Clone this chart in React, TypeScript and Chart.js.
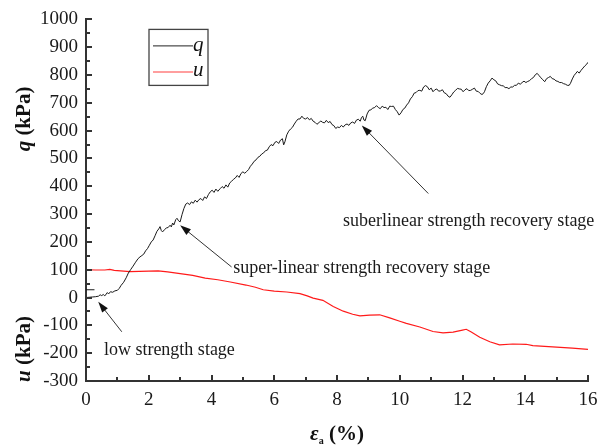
import React, { useEffect, useRef } from "react";
import { Chart, registerables } from "chart.js";

Chart.register(...registerables);

// Axial strain (%) and deviator stress q (kPa)
const qStrain = [
  0.0, 0.1, 0.2, 0.3, 0.4, 0.45, 0.5, 0.55, 0.6, 0.68, 0.72, 0.78, 0.85, 0.92, 1.0, 1.06, 1.12, 1.2, 1.28, 1.35,
  1.42, 1.5, 1.58, 1.66, 1.72, 1.78, 1.84, 1.9, 1.96, 2.02, 2.08, 2.14, 2.2, 2.26, 2.32, 2.36, 2.4, 2.44, 2.5, 2.56,
  2.62, 2.68, 2.72, 2.76, 2.8, 2.86, 2.9, 2.95, 3.0, 3.06, 3.12, 3.18, 3.24, 3.3, 3.36, 3.42, 3.48, 3.54, 3.6, 3.66,
  3.72, 3.78, 3.84, 3.9, 3.96, 4.02, 4.08, 4.14, 4.2, 4.28, 4.34, 4.4, 4.46, 4.52, 4.58, 4.64, 4.7, 4.76, 4.82, 4.88,
  4.94, 5.0, 5.06, 5.12, 5.18, 5.24, 5.3, 5.36, 5.42, 5.48, 5.54, 5.6, 5.66, 5.72, 5.78, 5.84, 5.9, 5.96, 6.02, 6.08,
  6.14, 6.2, 6.26, 6.3, 6.34, 6.4, 6.46, 6.52, 6.58, 6.64, 6.7, 6.76, 6.82, 6.88, 6.94, 7.0, 7.06, 7.12, 7.18, 7.24,
  7.3, 7.36, 7.42, 7.48, 7.54, 7.6, 7.66, 7.72, 7.78, 7.84, 7.9, 7.96, 8.02, 8.08, 8.14, 8.2, 8.26, 8.32, 8.38, 8.44,
  8.5, 8.56, 8.62, 8.68, 8.74, 8.78, 8.82, 8.86, 8.9, 8.96, 9.02, 9.08, 9.14, 9.2, 9.26, 9.32, 9.38, 9.44, 9.5, 9.56,
  9.62, 9.68, 9.74, 9.8, 9.86, 9.92, 9.98, 10.04, 10.1, 10.16, 10.22, 10.28, 10.34, 10.4, 10.46, 10.52, 10.58, 10.64,
  10.7, 10.76, 10.82, 10.88, 10.94, 11.0, 11.06, 11.12, 11.18, 11.24, 11.3, 11.36, 11.42, 11.48, 11.54, 11.6, 11.66,
  11.72, 11.78, 11.84, 11.9, 11.96, 12.02, 12.08, 12.14, 12.2, 12.26, 12.32, 12.38, 12.44, 12.5, 12.56, 12.62, 12.66,
  12.7, 12.76, 12.82, 12.88, 12.94, 13.0, 13.06, 13.12, 13.18, 13.24, 13.3, 13.36, 13.42, 13.48, 13.54, 13.6, 13.66,
  13.72, 13.78, 13.84, 13.9, 13.96, 14.02, 14.08, 14.14, 14.2, 14.26, 14.32, 14.38, 14.44, 14.5, 14.56, 14.62, 14.68,
  14.74, 14.8, 14.86, 14.92, 14.98, 15.04, 15.1, 15.16, 15.22, 15.28, 15.34, 15.4, 15.44, 15.5, 15.56, 15.62, 15.66,
  15.72, 15.78, 15.84, 15.9, 15.96, 16.0,
];
const qValues = [
  0, 1, 2, 3, 5, 10, 7, 11, 6, 18, 13, 21, 19, 24, 26, 33, 44, 55, 71, 88,
  100, 113, 127, 140, 146, 151, 156, 168, 176, 188, 200, 207, 222, 238, 247, 255, 241, 236, 244, 250,
  252, 260, 254, 268, 261, 280, 285, 276, 272, 298, 320, 336, 340, 334, 344, 339, 350, 343, 352, 356,
  349, 362, 356, 370, 380, 386, 378, 390, 382, 392, 399, 393, 405, 397, 412, 418, 425, 430, 439, 432,
  446, 452, 447, 453, 460, 472, 480, 490, 495, 504, 508, 516, 520, 528, 530, 542, 550, 546, 558, 561,
  554, 566, 571, 549, 560, 585, 598, 606, 612, 624, 634, 642, 642, 652, 644, 642, 647, 639, 644, 634,
  630, 623, 628, 635, 630, 628, 637, 629, 633, 622, 618, 608, 613, 611, 619, 613, 621, 624, 619, 628,
  631, 626, 638, 641, 634, 647, 652, 638, 636, 660, 673, 675, 681, 683, 690, 683, 679, 688, 683, 684,
  676, 688, 687, 688, 676, 668, 656, 664, 676, 681, 692, 700, 714, 722, 735, 737, 744, 745,
  742, 757, 762, 758, 747, 753, 740, 747, 750, 742, 743, 747, 736, 733, 724, 720, 729,
  739, 745, 752, 750, 749, 740, 747, 751, 744, 745, 749, 753, 742, 741, 734, 730, 733,
  740, 758, 771, 779, 789, 783, 779, 768, 765, 762, 761, 755, 755, 751, 757, 757, 763,
  763, 771, 767, 773, 778, 773, 777, 780, 787, 791, 801, 806, 798, 790, 783, 776, 787,
  791, 795, 787, 785, 779, 777, 773, 773, 769, 767, 763, 763, 770, 786, 799, 807, 813,
  807, 817, 825, 833, 839, 846,
];

// Short initial q reading before the seating drop
const qStartStrain = [0.0, 0.27];
const qStartValues = [28, 28];

// Axial strain (%) and pore pressure u (kPa)
const uStrain = [
  0, 0.3, 0.6, 0.76, 0.9, 1.1, 1.4, 1.7, 2.0, 2.3, 2.6, 3.0, 3.4, 3.8, 4.2, 4.6, 5.1, 5.4, 5.65, 6.0, 6.4, 6.82,
  7.05, 7.24, 7.55, 7.88, 8.2, 8.5, 8.73, 9.04, 9.36, 9.68, 10.0, 10.21, 10.64, 11.06, 11.38, 11.7, 12.0, 12.12,
  12.28, 12.55, 12.87, 13.18, 13.6, 14.03, 14.24, 14.87, 15.5, 16,
];
const uValues = [
  100, 99, 99, 101, 98, 96, 93, 94, 95, 96, 92, 86, 80, 70, 64, 56, 45, 37, 28, 23, 20, 14,
  6, -2, -10, -32, -49, -60, -66, -63, -62, -73, -85, -93, -106, -122, -127, -124, -117, -114,
  -124, -143, -159, -170, -167, -168, -173, -177, -182, -186,
];

const xTicks = { min: 0, max: 16, step: 2 };
const yTicks = { min: -300, max: 1000, step: 100 };

// Stage notes: text anchor and arrow (tail -> head) in data units
const stageNotes = [
  { text: "low strength stage", at: [0.57, -189], tail: [1.14, -123], head: [0.39, -15] },
  { text: "super-linear strength recovery stage", at: [4.69, 106], tail: [4.64, 110], head: [3.0, 260] },
  { text: "suberlinear strength recovery stage", at: [8.19, 274], tail: [10.91, 374], head: [8.79, 619] },
];

const SERIF = '"Liberation Serif", "Times New Roman", serif';

const pairs = (xs: number[], ys: number[]) => xs.map((x, i) => ({ x, y: ys[i] }));

function drawArrow(ctx: CanvasRenderingContext2D, x1: number, y1: number, x2: number, y2: number) {
  const ang = Math.atan2(y2 - y1, x2 - x1);
  const len = 11;
  const half = 3.6;
  ctx.strokeStyle = "#333";
  ctx.lineWidth = 1;
  ctx.beginPath();
  ctx.moveTo(x1, y1);
  ctx.lineTo(x2 - Math.cos(ang) * len * 0.6, y2 - Math.sin(ang) * len * 0.6);
  ctx.stroke();
  ctx.fillStyle = "#111";
  ctx.beginPath();
  ctx.moveTo(x2, y2);
  ctx.lineTo(x2 - Math.cos(ang) * len - Math.sin(ang) * half, y2 - Math.sin(ang) * len + Math.cos(ang) * half);
  ctx.lineTo(x2 - Math.cos(ang) * len + Math.sin(ang) * half, y2 - Math.sin(ang) * len - Math.cos(ang) * half);
  ctx.closePath();
  ctx.fill();
}

// Draws runs of text with individual fonts, left to right from (x, y)
function drawRuns(ctx: CanvasRenderingContext2D, runs: { t: string; f: string; dy?: number }[], x: number, y: number) {
  let cx = x;
  for (const r of runs) {
    ctx.font = r.f;
    ctx.fillText(r.t, cx, y + (r.dy || 0));
    cx += ctx.measureText(r.t).width;
  }
}
function runsWidth(ctx: CanvasRenderingContext2D, runs: { t: string; f: string }[]) {
  let w = 0;
  for (const r of runs) {
    ctx.font = r.f;
    w += ctx.measureText(r.t).width;
  }
  return w;
}

const decor = {
  id: "decor",
  afterDraw(chart: any) {
    const { ctx, chartArea: ca } = chart;
    const xs = chart.scales.x;
    const ys = chart.scales.y;
    ctx.save();

    // inward tick marks
    ctx.strokeStyle = "#333";
    ctx.lineWidth = 2;
    for (let v = xTicks.min; v <= xTicks.max; v += 1) {
      const px = Math.round(xs.getPixelForValue(v));
      const len = v % xTicks.step === 0 ? 6 : 4;
      ctx.beginPath();
      ctx.moveTo(px, ca.bottom);
      ctx.lineTo(px, ca.bottom - len);
      ctx.stroke();
    }
    for (let v = yTicks.min; v <= yTicks.max; v += yTicks.step / 2) {
      const py = Math.round(ys.getPixelForValue(v));
      const len = v % yTicks.step === 0 ? 6 : 4;
      ctx.beginPath();
      ctx.moveTo(ca.left, py);
      ctx.lineTo(ca.left + len, py);
      ctx.stroke();
    }

    // legend
    const lx = ca.left + 63;
    const ly = ca.top + 10;
    ctx.strokeStyle = "#444";
    ctx.lineWidth = 1.3;
    ctx.strokeRect(lx, ly, 59, 56);
    ctx.lineWidth = 1;
    ctx.strokeStyle = "#222";
    ctx.beginPath();
    ctx.moveTo(lx + 4, ly + 16.5);
    ctx.lineTo(lx + 44, ly + 16.5);
    ctx.stroke();
    ctx.strokeStyle = "#ff9e9e";
    ctx.lineWidth = 2;
    ctx.beginPath();
    ctx.moveTo(lx + 4, ly + 42.5);
    ctx.lineTo(lx + 44, ly + 42.5);
    ctx.stroke();
    ctx.fillStyle = "#111";
    ctx.font = `italic 21px ${SERIF}`;
    ctx.textBaseline = "middle";
    ctx.textAlign = "left";
    ctx.fillText("q", lx + 44, ly + 16);
    ctx.fillText("u", lx + 44, ly + 41);

    // stage notes
    for (const n of stageNotes) {
      ctx.font = `18px ${SERIF}`;
      ctx.fillStyle = "#1a1a1a";
      ctx.textBaseline = "middle";
      ctx.fillText(n.text, xs.getPixelForValue(n.at[0]), ys.getPixelForValue(n.at[1]));
      drawArrow(
        ctx,
        xs.getPixelForValue(n.tail[0]),
        ys.getPixelForValue(n.tail[1]),
        xs.getPixelForValue(n.head[0]),
        ys.getPixelForValue(n.head[1])
      );
    }

    // axis titles
    ctx.fillStyle = "#111";
    ctx.textBaseline = "middle";
    const yTitle = (sym: string, cy: number) => {
      const runs = [
        { t: sym, f: `italic bold 21px ${SERIF}` },
        { t: " (kPa)", f: `bold 21px ${SERIF}` },
      ];
      const w = runsWidth(ctx, runs);
      ctx.save();
      ctx.translate(25, cy);
      ctx.rotate(-Math.PI / 2);
      drawRuns(ctx, runs, -w / 2, 0);
      ctx.restore();
    };
    yTitle("q", 119);
    yTitle("u", 349);

    const xRuns = [
      { t: "\u03b5", f: `italic bold 21px ${SERIF}` },
      { t: "a", f: `bold 10px ${SERIF}`, dy: 6 },
      { t: " (%)", f: `bold 21px ${SERIF}` },
    ];
    const xw = runsWidth(ctx, xRuns);
    drawRuns(ctx, xRuns, (ca.left + ca.right) / 2 - xw / 2, 435);

    ctx.restore();
  },
};

export default function App() {
  const ref = useRef<HTMLCanvasElement>(null);

  useEffect(() => {
    if (!ref.current) return;
    const chart = new Chart(ref.current, {
      type: "line",
      data: {
        datasets: [
          {
            label: "q",
            data: pairs(qStrain, qValues),
            borderColor: "#1a1a1a",
            borderWidth: 1,
            pointRadius: 0,
            tension: 0,
          },
          {
            label: "q0",
            data: pairs(qStartStrain, qStartValues),
            borderColor: "#1a1a1a",
            borderWidth: 1,
            pointRadius: 0,
            tension: 0,
          },
          {
            label: "u",
            data: pairs(uStrain, uValues),
            borderColor: "#ff1a1a",
            borderWidth: 1.2,
            pointRadius: 0,
            tension: 0,
          },
        ],
      },
      options: {
        animation: false,
        responsive: false,
        devicePixelRatio: 1,
        layout: { padding: { top: 19, right: 19, left: 0, bottom: 0 } },
        plugins: { legend: { display: false }, tooltip: { enabled: false } },
        scales: {
          x: {
            type: "linear",
            min: xTicks.min,
            max: xTicks.max,
            ticks: {
              stepSize: xTicks.step,
              color: "#1a1a1a",
              font: { family: SERIF, size: 19 },
              padding: 8,
              maxRotation: 0,
              callback: (v: any) => String(v),
            },
            grid: { display: false, drawTicks: false },
            border: { display: true, color: "#333", width: 2 },
            afterFit: (s: any) => {
              s.height = 65;
            },
          },
          y: {
            type: "linear",
            min: yTicks.min,
            max: yTicks.max,
            ticks: {
              stepSize: yTicks.step,
              color: "#1a1a1a",
              font: { family: SERIF, size: 19 },
              padding: 8,
              callback: (v: any) => String(v),
            },
            grid: { display: false, drawTicks: false },
            border: { display: true, color: "#333", width: 2 },
            afterFit: (s: any) => {
              s.width = 86;
            },
          },
        },
      },
      plugins: [decor],
    });
    return () => chart.destroy();
  }, []);

  return (
    <div style={{ position: "fixed", left: 0, top: 0, width: 607, height: 446, background: "#fff" }}>
      <canvas ref={ref} width={607} height={446} style={{ display: "block" }} />
    </div>
  );
}
